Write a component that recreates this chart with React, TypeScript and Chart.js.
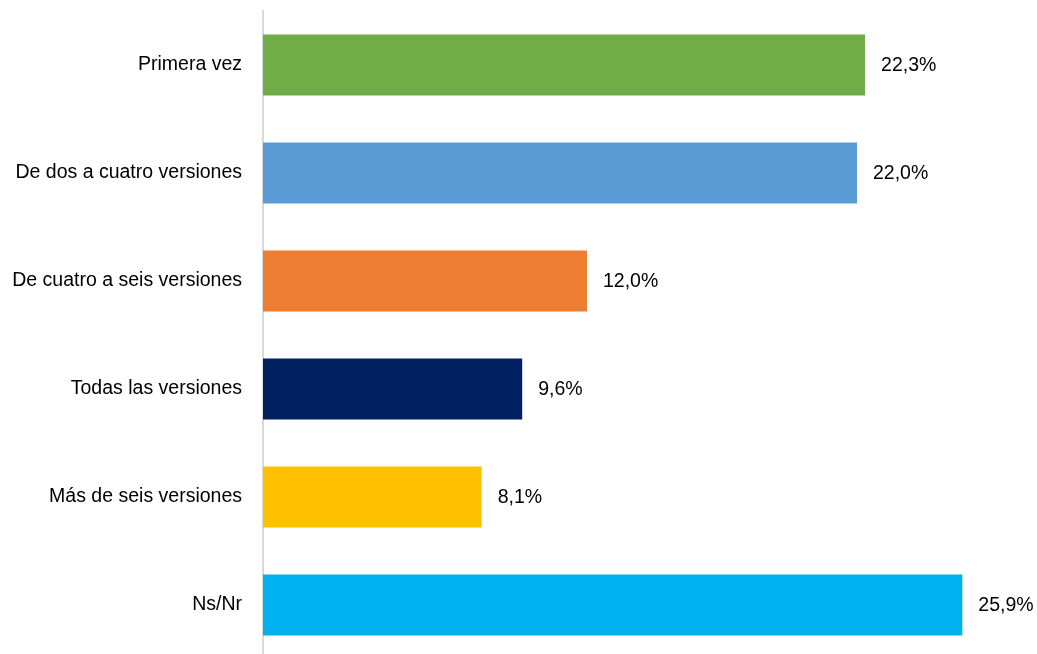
import React, { useEffect, useRef } from "react";
import { Chart, registerables } from "chart.js";

Chart.register(...registerables);

const categories = [
  "Primera vez",
  "De dos a cuatro versiones",
  "De cuatro a seis versiones",
  "Todas las versiones",
  "Más de seis versiones",
  "Ns/Nr",
];
const values = [22.3, 22.0, 12.0, 9.6, 8.1, 25.9];
const barColors = ["#70ad47", "#5b9bd5", "#ed7d31", "#002060", "#ffc000", "#00b0f0"];

const FONT = "'Liberation Sans', Arial, sans-serif";

const valueLabels = {
  id: "valueLabels",
  afterDatasetsDraw(chart: any) {
    const ctx = chart.ctx;
    const meta = chart.getDatasetMeta(0);
    ctx.save();
    ctx.font = `19.5px ${FONT}`;
    ctx.fillStyle = "#000000";
    ctx.textAlign = "left";
    ctx.textBaseline = "middle";
    meta.data.forEach((bar: any, i: number) => {
      const txt = values[i].toFixed(1).replace(".", ",") + "%";
      ctx.fillText(txt, bar.x + 16, bar.y + 1);
    });
    ctx.restore();
  },
};

export default function App() {
  const ref = useRef<HTMLCanvasElement | null>(null);
  useEffect(() => {
    if (!ref.current) return;
    const chart = new Chart(ref.current, {
      type: "bar",
      data: {
        labels: categories,
        datasets: [
          {
            data: values,
            backgroundColor: barColors,
            borderWidth: 0,
            barPercentage: 0.565,
            categoryPercentage: 1,
          },
        ],
      },
      options: {
        indexAxis: "y",
        animation: false,
        responsive: true,
        maintainAspectRatio: false,
        layout: { padding: { left: 0, right: 18, top: 11, bottom: 11 } },
        plugins: {
          legend: { display: false },
          tooltip: { enabled: false },
        },
        scales: {
          x: {
            display: false,
            min: 0,
            max: 28,
          },
          y: {
            grid: { display: false, drawTicks: false },
            border: { display: true, color: "#d9d9d9", width: 2 },
            ticks: {
              color: "#000000",
              padding: 21,
              font: { family: FONT, size: 19.5 },
            },
            afterFit(scale: any) {
              scale.width = 263;
              scale.paddingTop = 0;
              scale.paddingBottom = 0;
            },
          },
        },
      },
      plugins: [valueLabels],
    });
    return () => chart.destroy();
  }, []);
  return (
    <div
      style={{
        position: "fixed",
        left: 0,
        top: 0,
        width: 1037,
        height: 654,
        overflow: "hidden",
        background: "#ffffff",
      }}
    >
      <div style={{ position: "relative", width: 1037, height: 670 }}>
        <canvas ref={ref} />
      </div>
    </div>
  );
}
